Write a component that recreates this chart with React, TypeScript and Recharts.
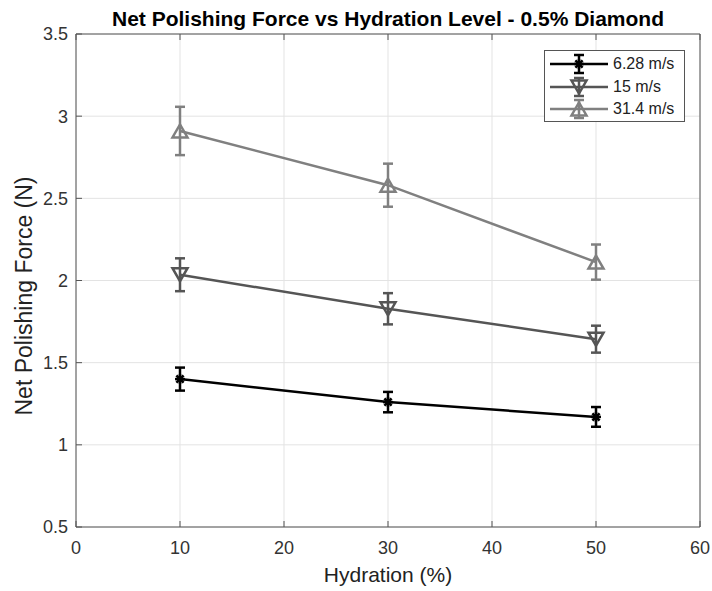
import React from 'react';
import { LineChart, Line, XAxis, YAxis, CartesianGrid, ErrorBar, Legend } from 'recharts';

const hydration = [10, 30, 50];

const force628 = [1.4, 1.26, 1.17];
const err628 = [0.07, 0.062, 0.06];
const force15 = [2.035, 1.828, 1.643];
const err15 = [0.1, 0.095, 0.082];
const force314 = [2.91, 2.58, 2.112];
const err314 = [0.147, 0.131, 0.107];

const seriesNames = ['6.28 m/s', '15 m/s', '31.4 m/s'];
const xTicks = [0, 10, 20, 30, 40, 50, 60];
const yTicks = [0.5, 1, 1.5, 2, 2.5, 3, 3.5];

const colors = ['#000000', '#555555', '#808080'];
const markers = ['star', 'down', 'up'];

const data = hydration.map((h, i) => ({
  h,
  s1: force628[i],
  e1: err628[i],
  s2: force15[i],
  e2: err15[i],
  s3: force314[i],
  e3: err314[i],
}));

const FONT = '"Liberation Sans", Arial, sans-serif';

const MarkerShape = ({ kind, cx, cy, color }: { kind: string; cx: number; cy: number; color: string }) => {
  if (kind === 'star') {
    const r = 5;
    const d = 3.6;
    return (
      <g stroke={color} strokeWidth={2.5}>
        <line x1={cx - r} y1={cy} x2={cx + r} y2={cy} />
        <line x1={cx} y1={cy - r} x2={cx} y2={cy + r} />
        <line x1={cx - d} y1={cy - d} x2={cx + d} y2={cy + d} />
        <line x1={cx - d} y1={cy + d} x2={cx + d} y2={cy - d} />
      </g>
    );
  }
  const w = 7.5;
  const h = 6.5;
  const pts =
    kind === 'down'
      ? `${cx - w},${cy - h} ${cx + w},${cy - h} ${cx},${cy + h}`
      : `${cx - w},${cy + h} ${cx + w},${cy + h} ${cx},${cy - h}`;
  return <polygon points={pts} fill="none" stroke={color} strokeWidth={2.5} strokeLinejoin="miter" />;
};

const makeDot = (idx: number) => (props: any) => {
  const { cx, cy, index } = props;
  return (
    <g key={`dot-${idx}-${index}`}>
      <MarkerShape kind={markers[idx]} cx={cx} cy={cy} color={colors[idx]} />
    </g>
  );
};

const renderLegend = () => (
  <div
    style={{
      width: 139,
      height: 70,
      border: '1px solid #555',
      background: '#fff',
      fontFamily: FONT,
      fontSize: 16,
      color: '#222',
      boxSizing: 'content-box',
    }}
  >
    {seriesNames.map((name, i) => (
      <div key={name} style={{ display: 'flex', alignItems: 'center', height: 22.5, marginTop: i === 0 ? 2 : 0 }}>
        <svg width={68} height={22} style={{ display: 'block' }}>
          <line x1={5} y1={11} x2={63} y2={11} stroke={colors[i]} strokeWidth={2.5} />
          <line x1={34} y1={2} x2={34} y2={20} stroke={colors[i]} strokeWidth={2.5} />
          <line x1={29} y1={2} x2={39} y2={2} stroke={colors[i]} strokeWidth={2.5} />
          <line x1={29} y1={20} x2={39} y2={20} stroke={colors[i]} strokeWidth={2.5} />
          <MarkerShape kind={markers[i]} cx={34} cy={11} color={colors[i]} />
        </svg>
        <span>{name}</span>
      </div>
    ))}
  </div>
);

const YTitle = () => (
  <text
    x={24}
    y={296}
    transform="rotate(-90, 24, 296)"
    textAnchor="middle"
    dominantBaseline="central"
    fontSize={23}
    fill="#222"
    fontFamily={FONT}
  >
    Net Polishing Force (N)
  </text>
);

export default function App() {
  const tickStyle = { fontSize: 18, fill: '#333', fontFamily: FONT };
  return (
    <div style={{ position: 'absolute', left: 0, top: 0, background: '#fff' }}>
      <LineChart width={712} height={591} data={data} margin={{ top: 33, right: 11, bottom: 24, left: 0 }}>
        <CartesianGrid stroke="#e3e3e3" strokeWidth={1} />
        <XAxis
          dataKey="h"
          type="number"
          domain={[0, 60]}
          ticks={xTicks}
          height={40}
          stroke="#555"
          tickSize={-6}
          tickMargin={20}
          tick={tickStyle}
          label={{
            value: 'Hydration (%)',
            position: 'bottom',
            offset: 0,
            style: { fontSize: 21, fill: '#222', fontFamily: FONT },
          }}
        />
        <XAxis
          xAxisId="top"
          orientation="top"
          dataKey="h"
          type="number"
          domain={[0, 60]}
          ticks={xTicks}
          height={1}
          stroke="#555"
          tickSize={-6}
          tickFormatter={() => ''}
          label={{
            value: 'Net Polishing Force vs Hydration Level - 0.5% Diamond',
            position: 'top',
            offset: 7,
            style: { fontSize: 21, fontWeight: 'bold', fill: '#000', fontFamily: FONT },
          }}
        />
        <YAxis
          type="number"
          domain={[0.5, 3.5]}
          ticks={yTicks}
          width={76}
          stroke="#555"
          tickSize={-6}
          tickMargin={14}
          tick={tickStyle}
          allowDataOverflow
          label={YTitle}
        />
        <YAxis
          yAxisId="right"
          orientation="right"
          type="number"
          domain={[0.5, 3.5]}
          ticks={yTicks}
          width={1}
          stroke="#555"
          tickSize={-6}
          tickFormatter={() => ''}
        />
        <Legend
          layout="vertical"
          align="center"
          verticalAlign="middle"
          content={renderLegend}
          wrapperStyle={{ left: 544, top: 50, width: 141, height: 72 }}
        />
        <Line
          dataKey="s1"
          name={seriesNames[0]}
          stroke={colors[0]}
          strokeWidth={2.5}
          dot={makeDot(0)}
          activeDot={false}
          isAnimationActive={false}
        >
          <ErrorBar dataKey="e1" width={5} stroke={colors[0]} strokeWidth={2.5} direction="y" isAnimationActive={false} />
        </Line>
        <Line
          dataKey="s2"
          name={seriesNames[1]}
          stroke={colors[1]}
          strokeWidth={2.5}
          dot={makeDot(1)}
          activeDot={false}
          isAnimationActive={false}
        >
          <ErrorBar dataKey="e2" width={5} stroke={colors[1]} strokeWidth={2.5} direction="y" isAnimationActive={false} />
        </Line>
        <Line
          dataKey="s3"
          name={seriesNames[2]}
          stroke={colors[2]}
          strokeWidth={2.5}
          dot={makeDot(2)}
          activeDot={false}
          isAnimationActive={false}
        >
          <ErrorBar dataKey="e3" width={5} stroke={colors[2]} strokeWidth={2.5} direction="y" isAnimationActive={false} />
        </Line>
      </LineChart>
    </div>
  );
}
